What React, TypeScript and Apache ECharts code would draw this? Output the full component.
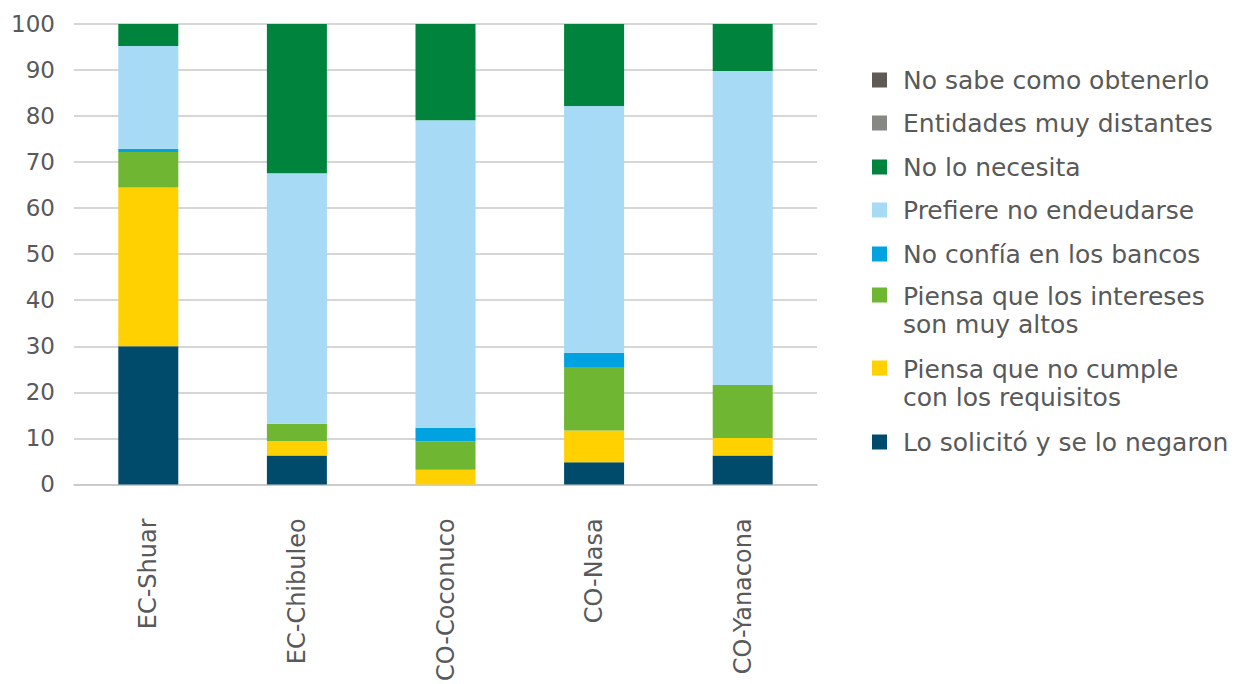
import React, { useEffect, useRef } from "react";
import * as echarts from "echarts";

const categories = ["EC-Shuar", "EC-Chibuleo", "CO-Coconuco", "CO-Nasa", "CO-Yanacona"];
const yTicks = [0, 10, 20, 30, 40, 50, 60, 70, 80, 90, 100];

const negaron = [30, 6.3, 0, 4.8, 6.3];
const noCumple = [34.5, 3.1, 3.2, 6.9, 3.8];
const intereses = [7.7, 3.8, 6.1, 13.8, 11.5];
const bancos = [0.7, 0, 3.0, 3.1, 0];
const endeudarse = [22.3, 54.4, 66.8, 53.6, 68.2];
const necesita = [4.8, 32.4, 20.9, 17.8, 10.2];
const distantes = [0, 0, 0, 0, 0];
const noSabe = [0, 0, 0, 0, 0];

const seriesNames = [
  "Lo solicitó y se lo negaron",
  "Piensa que no cumple con los requisitos",
  "Piensa que los intereses son muy altos",
  "No confía en los bancos",
  "Prefiere no endeudarse",
  "No lo necesita",
  "Entidades muy distantes",
  "No sabe como obtenerlo",
];
const seriesData = [negaron, noCumple, intereses, bancos, endeudarse, necesita, distantes, noSabe];
const seriesColors = ["#004b6b", "#ffd100", "#6fb632", "#00a3e0", "#a6daf5", "#00843d", "#878783", "#5f5a55"];

const legendLabels: Record<string, string> = {
  "Piensa que no cumple con los requisitos": "Piensa que no cumple\ncon los requisitos",
  "Piensa que los intereses son muy altos": "Piensa que los intereses\nson muy altos",
};

const legendCenters = [442, 370, 297, 254, 210, 167, 123, 80];

export default function App() {
  const ref = useRef<HTMLDivElement>(null);
  useEffect(() => {
    document.body.style.margin = "0";
    const chart = echarts.init(ref.current!, null, { renderer: "svg" });
    const font = "DejaVu Sans";
    const textColor = "#595959";
    const lh = 30;
    const legends = seriesNames.map((name, i) => {
      const twoLine = !!legendLabels[name];
      const tallH = 15 + lh * 2 - 15 - 2 * ((lh - 15) / 2) + 0; // placeholder
      const H = lh + 15 - 2 + 0;
      return {
        orient: "vertical",
        left: 872,
        top: legendCenters[i] - lh / 2,
        padding: 0,
        data: [name],
        itemWidth: 15,
        itemHeight: twoLine ? lh + 15 : 15,
        icon: twoLine ? `path://M0,0H15V15H0Z M0,${lh + 15 - 0.01}H0.01V${lh + 15}H0Z` : "rect",
        selectedMode: false,
        formatter: (n: string) => legendLabels[n] || n,
        textStyle: {
          fontFamily: font,
          fontSize: 25,
          color: textColor,
          lineHeight: twoLine ? 28 : lh,
          padding: [0, 0, 0, 11],
        },
      };
    });
    chart.setOption({
      animation: false,
      backgroundColor: "#ffffff",
      grid: { left: 74, right: 422, top: 24, bottom: 198, containLabel: false },
      legend: legends,
      xAxis: {
        type: "category",
        data: categories,
        axisTick: { show: false },
        axisLine: { lineStyle: { color: "#c8c8c8", width: 1.5 } },
        axisLabel: {
          rotate: 90,
          margin: 34,
          fontFamily: font,
          fontSize: 24,
          color: textColor,
        },
      },
      yAxis: {
        type: "value",
        min: 0,
        max: 100,
        interval: 10,
        axisLine: { show: false },
        axisTick: { show: false },
        splitLine: { lineStyle: { color: "#c8c8c8", width: 1.5 } },
        axisLabel: {
          margin: 19,
          fontFamily: font,
          fontSize: 23,
          color: textColor,
          formatter: (v: number) => (yTicks.includes(v) ? String(v) : ""),
        },
      },
      series: seriesNames.map((name, i) => ({
        name,
        type: "bar",
        stack: "total",
        barWidth: 60,
        data: seriesData[i],
        itemStyle: { color: seriesColors[i] },
      })),
    });
    return () => chart.dispose();
  }, []);
  return <div ref={ref} style={{ width: 1239, height: 684 }} />;
}
